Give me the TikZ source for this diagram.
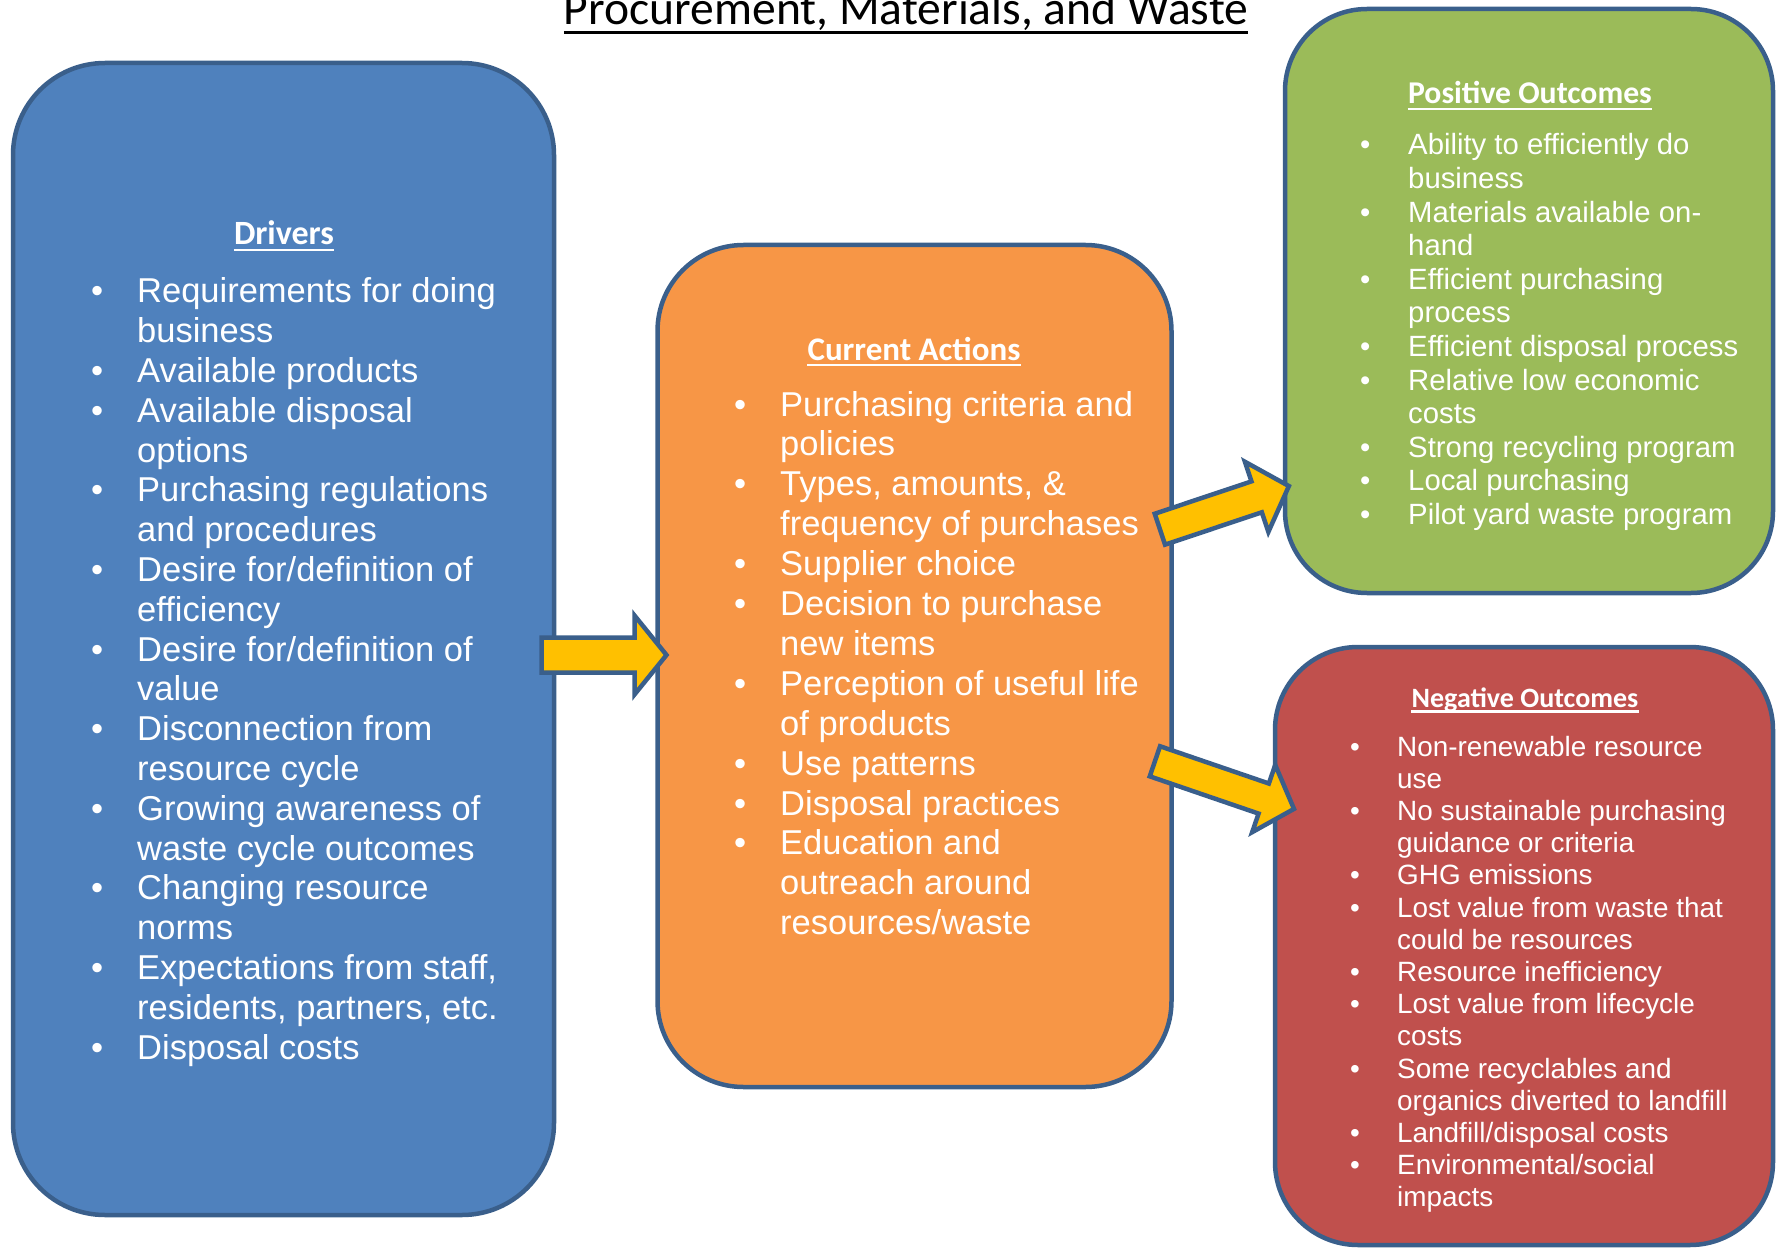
\documentclass[tikz,border=0pt]{standalone}
\usepackage{fontspec}
\setmainfont{Liberation Sans}
\newfontfamily\hdfont{Carlito}
\newlength\bw
\newcommand\bi{\makebox[\bw][l]{•}}
\newcommand\ci{\hspace*{\bw}}
\definecolor{bordc}{HTML}{3A5F8B}
\definecolor{bluef}{HTML}{4F81BD}
\definecolor{orangef}{HTML}{F79646}
\definecolor{greenf}{HTML}{9BBB59}
\definecolor{redf}{HTML}{C0504D}
\definecolor{arrc}{HTML}{FFC000}
\begin{document}
\begin{tikzpicture}[x=1pt,y=-1pt,
  box/.style={draw=bordc, line width=4.5pt, rounded corners=#1, inner sep=0pt, rectangle},
  blockarrow/.style={draw=bordc, fill=arrc, line width=4.5pt, line join=miter},
  head/.style={anchor=base, inner sep=0pt, text=white},
  ul/.style={white, line width=2.5pt},
  listtxt/.style={anchor=base west, inner sep=0pt, text=white, align=left}]
\useasboundingbox (0,0) rectangle (1783,1249);

% boxes
\node[box=92pt, fill=bluef, minimum width=541pt, minimum height=1152pt] (drv) at (283.5,639) {};
\node[box=86pt, fill=orangef, minimum width=514pt, minimum height=842pt] (act) at (914.5,666) {};
\node[box=82pt, fill=greenf, minimum width=488pt, minimum height=584pt] (pos) at (1529,301) {};
\node[box=83pt, fill=redf, minimum width=498pt, minimum height=598pt] (neg) at (1524,946) {};

% arrows
\begin{scope}[shift={(541.5,655)}]
\draw[blockarrow] (0,-17.5) -- (93,-17.5) -- (93,-39.5) -- (125,0) -- (93,39.5) -- (93,17.5) -- (0,17.5) -- cycle;
\end{scope}
\begin{scope}[shift={(1159.9,529.2)}, rotate=18.5]
\draw[blockarrow] (0,-16.3) -- (102,-16.3) -- (102,-37) -- (136,0) -- (102,37) -- (102,16.3) -- (0,16.3) -- cycle;
\end{scope}
\begin{scope}[shift={(1154.9,761.3)}, rotate=-18.9]
\draw[blockarrow] (0,-15.9) -- (115,-15.9) -- (115,-35.5) -- (147,0) -- (115,35.5) -- (115,15.9) -- (0,15.9) -- cycle;
\end{scope}

% title
\node[font=\hdfont\fontsize{47.6}{57}\selectfont, anchor=base, inner sep=0pt] (title) at (906,25) {Procurement, Materials, and Waste};
\draw[line width=3.5pt] ([yshift=-7.5pt]title.base west) -- ([yshift=-7.5pt]title.base east);

% headings
\node[head, font=\hdfont\bfseries\fontsize{34}{40}\selectfont] (hdrv) at (284,245) {Drivers};
\draw[ul] ([yshift=-5pt]hdrv.base west) -- ([yshift=-5pt]hdrv.base east);
\node[head, font=\hdfont\bfseries\fontsize{33}{40}\selectfont] (hact) at (914,360) {Current Actions};
\draw[ul] ([yshift=-5pt]hact.base west) -- ([yshift=-5pt]hact.base east);
\node[head, font=\hdfont\bfseries\fontsize{31.7}{38}\selectfont] (hpos) at (1530,104) {Positive Outcomes};
\draw[ul] ([yshift=-5pt]hpos.base west) -- ([yshift=-5pt]hpos.base east);
\node[head, font=\hdfont\bfseries\fontsize{28}{34}\selectfont] (hneg) at (1525,707) {Negative Outcomes};
\draw[ul] ([yshift=-4.5pt]hneg.base west) -- ([yshift=-4.5pt]hneg.base east);

% lists
\node[listtxt, font=\fontsize{34.5}{39.8}\selectfont] (ldrv) at (91,303) {\setlength\bw{46pt}\begin{tabular}[t]{@{}l@{}}
\bi Requirements for doing\\
\ci business\\
\bi Available products\\
\bi Available disposal\\
\ci options\\
\bi Purchasing regulations\\
\ci and procedures\\
\bi Desire for/definition of\\
\ci efficiency\\
\bi Desire for/definition of\\
\ci value\\
\bi Disconnection from\\
\ci resource cycle\\
\bi Growing awareness of\\
\ci waste cycle outcomes\\
\bi Changing resource\\
\ci norms\\
\bi Expectations from staff,\\
\ci residents, partners, etc.\\
\bi Disposal costs
\end{tabular}};

\node[listtxt, font=\fontsize{34.5}{39.9}\selectfont] (lact) at (734,416) {\setlength\bw{46pt}\begin{tabular}[t]{@{}l@{}}
\bi Purchasing criteria and\\
\ci policies\\
\bi Types, amounts, \&\\
\ci frequency of purchases\\
\bi Supplier choice\\
\bi Decision to purchase\\
\ci new items\\
\bi Perception of useful life\\
\ci of products\\
\bi Use patterns\\
\bi Disposal practices\\
\bi Education and\\
\ci outreach around\\
\ci resources/waste
\end{tabular}};

\node[listtxt, font=\fontsize{29.3}{33.6}\selectfont] (lpos) at (1360,155) {\setlength\bw{48pt}\begin{tabular}[t]{@{}l@{}}
\bi Ability to efficiently do\\
\ci business\\
\bi Materials available on-\\
\ci hand\\
\bi Efficient purchasing\\
\ci process\\
\bi Efficient disposal process\\
\bi Relative low economic\\
\ci costs\\
\bi Strong recycling program\\
\bi Local purchasing\\
\bi Pilot yard waste program
\end{tabular}};

\node[listtxt, font=\fontsize{27.9}{32.2}\selectfont] (lneg) at (1350,756) {\setlength\bw{47pt}\begin{tabular}[t]{@{}l@{}}
\bi Non-renewable resource\\
\ci use\\
\bi No sustainable purchasing\\
\ci guidance or criteria\\
\bi GHG emissions\\
\bi Lost value from waste that\\
\ci could be resources\\
\bi Resource inefficiency\\
\bi Lost value from lifecycle\\
\ci costs\\
\bi Some recyclables and\\
\ci organics diverted to landfill\\
\bi Landfill/disposal costs\\
\bi Environmental/social\\
\ci impacts
\end{tabular}};
\end{tikzpicture}
\end{document}
